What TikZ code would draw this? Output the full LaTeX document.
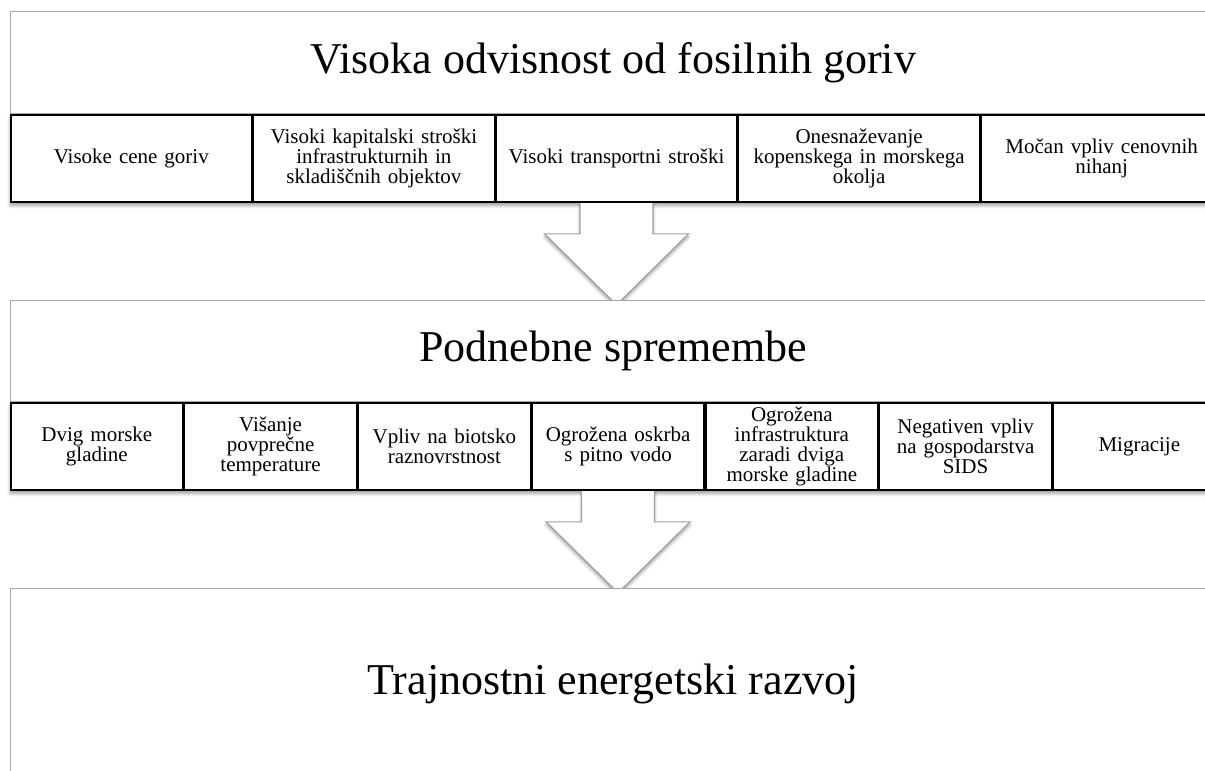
\documentclass[tikz,border=0pt]{standalone}
\usepackage{fontspec}
\setmainfont{Liberation Serif}
\usetikzlibrary{positioning}
\usetikzlibrary{backgrounds}
\usetikzlibrary{shadows.blur}

\tikzset{
  headbox/.style={draw=gray!70, line width=1.3pt, fill=white, anchor=north west, inner sep=0pt,
    minimum width=1205pt, font=\fontsize{44}{50}\selectfont},
  rowcell/.style={draw=black, line width=1.6pt, fill=white, inner sep=0pt, align=center,
    minimum height=87pt, font=\fontsize{21}{20}\selectfont},
  cellA/.style={rowcell, minimum width=241pt, text width=228pt},
  cellB/.style={rowcell, minimum width=172.14pt, text width=166pt},
  softshadow/.style={blur shadow={shadow xshift=0pt, shadow yshift=-3pt, shadow blur radius=3pt, shadow opacity=35}},
  downarrow/.style={draw=gray!75, line width=1.2pt, fill=white, line join=miter, softshadow}
}

\begin{document}
\begin{tikzpicture}[x=1pt,y=1pt]
\useasboundingbox (0,0) rectangle (1205,771);
\clip (0,0) rectangle (1205,771);

% first level
\node[headbox, minimum height=102pt] (hA) at (10,760) {Visoka odvisnost od fosilnih goriv};
\node[cellA, anchor=north west] (a1) at (hA.south west) {Visoke cene goriv};
\node[cellA, right=0pt of a1] (a2) {Visoki kapitalski stroški\\infrastrukturnih in\\skladiščnih objektov};
\node[cellA, right=0pt of a2] (a3) {Visoki transportni stroški};
\node[cellA, right=0pt of a3] (a4) {Onesnaževanje\\kopenskega in morskega\\okolja};
\node[cellA, right=0pt of a4] (a5) {Močan vpliv cenovnih\\nihanj};
\begin{scope}[on background layer]
\path[fill=white, softshadow] (a1.north west) rectangle (a5.south east);
\end{scope}

% second level
\node[headbox, minimum height=101pt] (hB) at (10,471) {Podnebne spremembe};
\node[cellB, anchor=north west] (b1) at (hB.south west) {Dvig morske\\gladine};
\node[cellB, right=0pt of b1] (b2) {Višanje\\povprečne\\temperature};
\node[cellB, right=0pt of b2] (b3) {Vpliv na biotsko\\raznovrstnost};
\node[cellB, right=0pt of b3] (b4) {Ogrožena oskrba\\s pitno vodo};
\node[cellB, right=0pt of b4] (b5) {Ogrožena\\infrastruktura\\zaradi dviga\\morske gladine};
\node[cellB, right=0pt of b5] (b6) {Negativen vpliv\\na gospodarstva\\SIDS};
\node[cellB, right=0pt of b6] (b7) {Migracije};
\begin{scope}[on background layer]
\path[fill=white, softshadow] (b1.north west) rectangle (b7.south east);
\end{scope}

% third level
\node[headbox, minimum height=190pt] (hC) at (10,183) {Trajnostni energetski razvoj};

% block arrows, behind the boxes
\begin{scope}[on background layer]
\draw[downarrow] ([xshift=-36.5pt,yshift=4pt]a3.south) -- ++(0,-35) -- ++(-35.5,0) -- ++(72,-71)
  -- ++(72,71) -- ++(-35.5,0) -- ++(0,35) -- cycle;
\draw[downarrow] ([xshift=-36.5pt,yshift=4pt]b4.south) -- ++(0,-35) -- ++(-35.5,0) -- ++(72,-71)
  -- ++(72,71) -- ++(-35.5,0) -- ++(0,35) -- cycle;
\end{scope}

\end{tikzpicture}
\end{document}
